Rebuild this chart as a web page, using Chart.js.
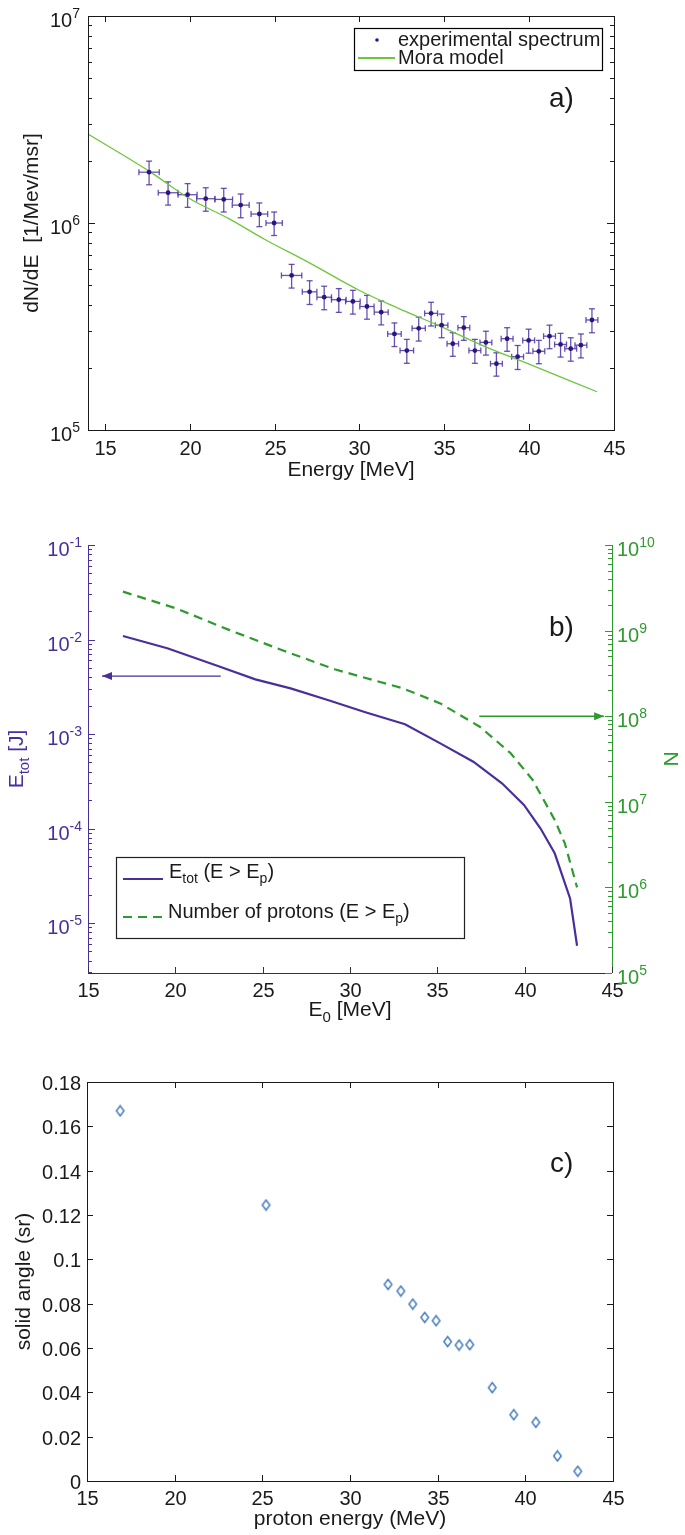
<!DOCTYPE html>
<html>
<head>
<meta charset="utf-8">
<script src="https://cdn.jsdelivr.net/npm/chart.js@4.4.1/dist/chart.umd.min.js"></script>
<style>
  body { margin: 0; background: #fff; }
  #wrap { position: relative; width: 685px; height: 1535px; }
  canvas { position: absolute; left: 0; }
</style>
</head>
<body>
<div id="wrap">
  <canvas id="ca" width="685" height="488" style="top:0"></canvas>
  <canvas id="cb" width="685" height="545" style="top:490px"></canvas>
  <canvas id="cc" width="685" height="500" style="top:1035px"></canvas>
</div>
<script>
const FONT = '"Liberation Sans", Arial, sans-serif';
const INK = "#1a1a1a";

// ── a) experimental spectrum + Mora model ──
const expEnergy = [17.6, 18.72, 19.87, 20.94, 22.0, 23.0, 24.1, 24.97, 26.0, 27.06, 27.92, 28.78, 29.61,
  30.44, 31.28, 32.06, 32.79, 33.49, 34.22, 34.84, 35.5, 36.15, 36.8, 37.45, 38.07, 38.7, 39.32,
  39.97, 40.57, 41.2, 41.85, 42.45, 43.05, 43.7];
const expCounts = [1.76e6, 1.40e6, 1.37e6, 1.31e6, 1.30e6, 1.22e6, 1.105e6, 1.0e6, 5.58e5, 4.65e5, 4.38e5, 4.26e5, 4.18e5,
  3.95e5, 3.71e5, 2.91e5, 2.42e5, 3.10e5, 3.66e5, 3.21e5, 2.61e5, 3.12e5, 2.42e5, 2.65e5, 2.09e5, 2.76e5, 2.26e5,
  2.71e5, 2.40e5, 2.84e5, 2.59e5, 2.47e5, 2.57e5, 3.40e5];
const expErrE = [0.6, 0.58, 0.56, 0.54, 0.52, 0.5, 0.49, 0.48, 0.6, 0.43, 0.43, 0.43, 0.43,
  0.42, 0.41, 0.4, 0.4, 0.39, 0.38, 0.37, 0.34, 0.35, 0.35, 0.35, 0.35, 0.35, 0.35,
  0.35, 0.35, 0.35, 0.35, 0.35, 0.35, 0.35];
const expErrN = [2.3e5, 1.8e5, 1.8e5, 1.7e5, 1.7e5, 1.6e5, 1.45e5, 1.3e5, 7.3e4, 6.1e4, 5.7e4, 5.6e4, 5.5e4,
  5.2e4, 4.9e4, 3.8e4, 3.2e4, 4.1e4, 4.8e4, 4.2e4, 3.4e4, 4.1e4, 3.2e4, 3.5e4, 2.7e4, 3.6e4, 3.0e4,
  3.6e4, 3.1e4, 3.7e4, 3.4e4, 3.2e4, 3.4e4, 4.5e4];
const moraEnergy = [14, 17.6, 20, 22.3, 24.4, 27, 30, 32.2, 34.8, 37.4, 40, 44];
const moraCounts = [2.69e6, 1.78e6, 1.31e6, 1.05e6, 8.35e5, 6.45e5, 4.72e5, 3.9e5, 3.16e5, 2.53e5, 2.08e5, 1.53e5];
const aTicksX = [15, 20, 25, 30, 35, 40, 45];
const aTicksY = [1e5, 1e6, 1e7];

// ── b) total energy and number of protons above E0 ──
const etotE0 = [17, 19.54, 22.56, 24.58, 26.6, 28.86, 30.88, 33.15, 35.17, 37.06, 38.7, 39.96, 40.91, 41.72, 42.6, 43];
const etotJ = [1.09e-2, 8.07e-3, 5.15e-3, 3.79e-3, 3.04e-3, 2.25e-3, 1.70e-3, 1.27e-3, 7.96e-4, 5.09e-4, 3.01e-4,
  1.78e-4, 1.0e-4, 5.47e-5, 1.82e-5, 5.75e-6];
const protE0 = [17, 20.04, 23.07, 26.09, 29.12, 33.02, 35.17, 37.43, 39.2, 40.46, 41.72, 42.3, 43];
const protN = [2.85e9, 1.82e9, 1.02e9, 5.93e8, 3.53e8, 2.12e8, 1.41e8, 7.54e7, 3.69e7, 1.80e7, 6.13e6, 3.27e6, 1.0e6];
const bTicksX = [15, 20, 25, 30, 35, 40, 45];
const bTicksLeft = [1e-5, 1e-4, 1e-3, 1e-2, 1e-1];
const bTicksRight = [1e5, 1e6, 1e7, 1e8, 1e9, 1e10];
const arrowToLeft = [[22.6, 4.1e-3], [15.8, 4.1e-3]];
const arrowToRight = [[37.4, 1e8], [44.55, 1e8]];

// ── c) solid angle vs proton energy ──
const solidEnergy = [16.89, 25.21, 32.17, 32.9, 33.58, 34.26, 34.91, 35.57, 36.22, 36.83, 38.11, 39.34, 40.6, 41.83, 42.99];
const solidAngle = [0.167, 0.1245, 0.0887, 0.0857, 0.0798, 0.0738, 0.0723, 0.0629, 0.0613, 0.0615, 0.0421, 0.0299,
  0.0265, 0.0113, 0.0044];
const cTicksX = [15, 20, 25, 30, 35, 40, 45];
const cTicksY = [0, 0.02, 0.04, 0.06, 0.08, 0.1, 0.12, 0.14, 0.16, 0.18];

const PURPLE_ERR = "rgba(78,52,165,0.85)";
const PURPLE_DOT = "#2b1580";
const GREEN_MORA = "#6cc73c";
const PURPLE_B   = "#4a2f9a";
const GREEN_B    = "#2f9a2f";
const BLUE_C     = "#3f78bb";

// ── helpers ──
function seg(ctx, x1, y1, x2, y2, color, w) {
  ctx.strokeStyle = color; ctx.lineWidth = w || 1;
  ctx.beginPath(); ctx.moveTo(x1, y1); ctx.lineTo(x2, y2); ctx.stroke();
}

function runs(ctx, parts, x, y, align, color) {
  const widths = parts.map(p => { ctx.font = p[1] + "px " + FONT; return ctx.measureText(p[0]).width; });
  const total = widths.reduce((s, w) => s + w, 0);
  let cx = align === "center" ? x - total / 2 : align === "right" ? x - total : x;
  ctx.fillStyle = color; ctx.textAlign = "left"; ctx.textBaseline = "alphabetic";
  parts.forEach((p, i) => {
    ctx.font = p[1] + "px " + FONT;
    ctx.fillText(p[0], cx, y + (p[2] || 0));
    cx += widths[i];
  });
}

function vrun(ctx, parts, x, y, color) {
  ctx.save(); ctx.translate(x, y); ctx.rotate(-Math.PI / 2);
  runs(ctx, parts, 0, 0, "center", color);
  ctx.restore();
}

function pow10(v) {
  return [["10", 20], [String(Math.round(Math.log10(v))), 14, -9]];
}

function logMinors(min, max) {
  const out = [];
  for (let e = Math.floor(Math.log10(min)); e <= Math.ceil(Math.log10(max)); e++) {
    for (let m = 2; m <= 9; m++) {
      const v = m * Math.pow(10, e);
      if (v > min && v < max) out.push(v);
    }
  }
  return out;
}

function fixedTicks(list) {
  return axis => { axis.ticks = list.map(v => ({ value: v })); };
}

function arrow(ctx, x1, y1, x2, y2, color) {
  seg(ctx, x1, y1, x2, y2, color, 1.4);
  const dir = Math.sign(x2 - x1);
  ctx.fillStyle = color;
  ctx.beginPath();
  ctx.moveTo(x2, y2); ctx.lineTo(x2 - dir * 10, y2 - 4); ctx.lineTo(x2 - dir * 10, y2 + 4);
  ctx.closePath(); ctx.fill();
}

function diamondStyle(color) {
  const c = document.createElement("canvas");
  c.width = 11; c.height = 13;
  const g = c.getContext("2d");
  g.strokeStyle = color; g.lineWidth = 1.4;
  g.beginPath(); g.moveTo(5.5, 1.5); g.lineTo(9.3, 6.5); g.lineTo(5.5, 11.5); g.lineTo(1.7, 6.5); g.closePath(); g.stroke();
  return c;
}

const baseOptions = (pad) => ({
  responsive: false,
  animation: false,
  events: [],
  layout: { padding: pad },
  plugins: { legend: { display: false }, tooltip: { enabled: false } },
});

const hidden = { ticks: { display: false }, grid: { display: false }, border: { display: false } };

// ── Panel a ──
const errorBars = {
  id: "errorBars",
  beforeDatasetsDraw(chart) {
    const { ctx, scales: { x, y } } = chart;
    ctx.save();
    expEnergy.forEach((e, i) => {
      const px = x.getPixelForValue(e), py = y.getPixelForValue(expCounts[i]);
      const xl = x.getPixelForValue(e - expErrE[i]), xr = x.getPixelForValue(e + expErrE[i]);
      const yt = y.getPixelForValue(expCounts[i] + expErrN[i]), yb = y.getPixelForValue(expCounts[i] - expErrN[i]);
      seg(ctx, xl, py, xr, py, PURPLE_ERR, 1.3);
      seg(ctx, px, yt, px, yb, PURPLE_ERR, 1.3);
      seg(ctx, px - 3, yt, px + 3, yt, PURPLE_ERR, 1.3);
      seg(ctx, px - 3, yb, px + 3, yb, PURPLE_ERR, 1.3);
      seg(ctx, xl, py - 3, xl, py + 3, PURPLE_ERR, 1.3);
      seg(ctx, xr, py - 3, xr, py + 3, PURPLE_ERR, 1.3);
    });
    ctx.restore();
  },
};

const frameA = {
  id: "frameA",
  afterDraw(chart) {
    const { ctx, chartArea: a, scales: { x, y } } = chart;
    ctx.save();
    ctx.strokeStyle = INK; ctx.lineWidth = 1;
    ctx.strokeRect(a.left + 0.5, a.top + 0.5, a.right - a.left, a.bottom - a.top);
    x.ticks.forEach(t => {
      const px = Math.round(x.getPixelForValue(t.value)) + 0.5;
      seg(ctx, px, a.bottom, px, a.bottom - 6, INK);
      seg(ctx, px, a.top, px, a.top + 6, INK);
      runs(ctx, [[String(t.value), 20]], px, 455, "center", INK);
    });
    y.ticks.forEach(t => {
      const py = Math.round(y.getPixelForValue(t.value)) + 0.5;
      seg(ctx, a.left, py, a.left + 7, py, INK);
      seg(ctx, a.right, py, a.right - 7, py, INK);
      runs(ctx, pow10(t.value), 80, py + 10, "right", INK);
    });
    logMinors(y.min, y.max).forEach(v => {
      const py = Math.round(y.getPixelForValue(v)) + 0.5;
      seg(ctx, a.left, py, a.left + 4, py, INK);
      seg(ctx, a.right, py, a.right - 4, py, INK);
    });
    runs(ctx, [["Energy [MeV]", 21]], (a.left + a.right) / 2, 476, "center", INK);
    vrun(ctx, [["dN/dE  [1/Mev/msr]", 21]], 38, (a.top + a.bottom) / 2, INK);

    // legend
    ctx.fillStyle = "#fff"; ctx.fillRect(354, 28, 248, 42);
    ctx.strokeStyle = "#000"; ctx.lineWidth = 1.2; ctx.strokeRect(354.5, 28.5, 248, 42);
    ctx.fillStyle = PURPLE_DOT; ctx.beginPath(); ctx.arc(377, 40, 1.8, 0, Math.PI * 2); ctx.fill();
    runs(ctx, [["experimental spectrum", 20]], 398, 46, "left", INK);
    seg(ctx, 358, 58, 395, 58, GREEN_MORA, 2.2);
    runs(ctx, [["Mora model", 20]], 398, 64, "left", INK);

    runs(ctx, [["a)", 28]], 549, 107, "left", INK);
    ctx.restore();
  },
};

new Chart(document.getElementById("ca"), {
  type: "scatter",
  data: {
    datasets: [
      {
        label: "experimental spectrum",
        data: expEnergy.map((e, i) => ({ x: e, y: expCounts[i] })),
        pointRadius: 2.4, pointBackgroundColor: PURPLE_DOT, pointBorderWidth: 0,
      },
      {
        label: "Mora model",
        data: moraEnergy.map((e, i) => ({ x: e, y: moraCounts[i] })),
        showLine: true, pointRadius: 0, borderColor: GREEN_MORA, borderWidth: 1.3,
        cubicInterpolationMode: "monotone",
      },
    ],
  },
  options: {
    ...baseOptions({ top: 16, right: 71, left: 0, bottom: 0 }),
    scales: {
      x: { type: "linear", min: 14, max: 45, ...hidden, afterBuildTicks: fixedTicks(aTicksX), afterFit: s => { s.height = 58; } },
      y: { type: "logarithmic", min: 1e5, max: 1e7, ...hidden, afterBuildTicks: fixedTicks(aTicksY), afterFit: s => { s.width = 88; } },
    },
  },
  plugins: [errorBars, frameA],
});

// ── Panel b ──
const frameB = {
  id: "frameB",
  afterDraw(chart) {
    const { ctx, chartArea: a, scales: { x, yL, yR } } = chart;
    const off = 490;
    ctx.save();
    seg(ctx, a.left, a.bottom + 0.5, a.right, a.bottom + 0.5, "#333", 1);
    seg(ctx, a.left + 0.5, a.top, a.left + 0.5, a.bottom, PURPLE_B, 1);
    seg(ctx, a.right + 0.5, a.top, a.right + 0.5, a.bottom, GREEN_B, 1);
    x.ticks.forEach(t => {
      const px = Math.round(x.getPixelForValue(t.value)) + 0.5;
      seg(ctx, px, a.bottom, px, a.bottom - 6, "#333");
      runs(ctx, [[String(t.value), 20]], px, 997 - off, "center", INK);
    });
    yL.ticks.forEach(t => {
      const py = Math.round(yL.getPixelForValue(t.value)) + 0.5;
      seg(ctx, a.left, py, a.left + 7, py, PURPLE_B);
      runs(ctx, pow10(t.value), 82, py + 10, "right", PURPLE_B);
    });
    logMinors(yL.min, yL.max).forEach(v => {
      const py = Math.round(yL.getPixelForValue(v)) + 0.5;
      seg(ctx, a.left, py, a.left + 4, py, PURPLE_B);
    });
    yR.ticks.forEach(t => {
      const py = Math.round(yR.getPixelForValue(t.value)) + 0.5;
      seg(ctx, a.right, py, a.right - 7, py, GREEN_B);
      runs(ctx, pow10(t.value), 617, py + 10, "left", GREEN_B);
    });
    logMinors(yR.min, yR.max).forEach(v => {
      const py = Math.round(yR.getPixelForValue(v)) + 0.5;
      seg(ctx, a.right, py, a.right - 4, py, GREEN_B);
    });

    arrow(ctx, x.getPixelForValue(arrowToLeft[0][0]), yL.getPixelForValue(arrowToLeft[0][1]),
      x.getPixelForValue(arrowToLeft[1][0]), yL.getPixelForValue(arrowToLeft[1][1]), PURPLE_B);
    arrow(ctx, x.getPixelForValue(arrowToRight[0][0]), yR.getPixelForValue(arrowToRight[0][1]),
      x.getPixelForValue(arrowToRight[1][0]), yR.getPixelForValue(arrowToRight[1][1]), GREEN_B);

    runs(ctx, [["E", 21], ["0", 15, 6], [" [MeV]", 21]], (a.left + a.right) / 2, 1016 - off, "center", INK);
    const cy = (a.top + a.bottom) / 2;
    vrun(ctx, [["E", 21], ["tot", 15, 6], [" [J]", 21]], 23, cy, PURPLE_B);
    vrun(ctx, [["N", 21]], 678, cy, GREEN_B);

    // legend
    const lt = 857 - off;
    ctx.fillStyle = "#fff"; ctx.fillRect(116, lt, 348, 81);
    ctx.strokeStyle = "#222"; ctx.lineWidth = 1.2; ctx.strokeRect(116.5, lt + 0.5, 348, 81);
    seg(ctx, 123, 879 - off, 163, 879 - off, PURPLE_B, 2.2);
    runs(ctx, [["E", 20], ["tot", 14, 5], [" (E > E", 20], ["p", 14, 5], [")", 20]], 169, 878 - off, "left", INK);
    ctx.setLineDash([9, 6]);
    seg(ctx, 123, 917 - off, 163, 917 - off, GREEN_B, 2.2);
    ctx.setLineDash([]);
    runs(ctx, [["Number of protons (E > E", 20], ["p", 14, 5], [")", 20]], 168, 918 - off, "left", INK);

    runs(ctx, [["b)", 28]], 549, 636 - off, "left", INK);
    ctx.restore();
  },
};

new Chart(document.getElementById("cb"), {
  type: "scatter",
  data: {
    datasets: [
      {
        label: "Etot (E > Ep)",
        data: etotE0.map((e, i) => ({ x: e, y: etotJ[i] })),
        yAxisID: "yL", showLine: true, pointRadius: 0, borderColor: PURPLE_B, borderWidth: 2.2,
      },
      {
        label: "Number of protons (E > Ep)",
        data: protE0.map((e, i) => ({ x: e, y: protN[i] })),
        yAxisID: "yR", showLine: true, pointRadius: 0, borderColor: GREEN_B, borderWidth: 2.2,
        borderDash: [9, 6],
      },
    ],
  },
  options: {
    ...baseOptions({ top: 55, right: 0, left: 0, bottom: 0 }),
    scales: {
      x: { type: "linear", min: 15, max: 45, ...hidden, afterBuildTicks: fixedTicks(bTicksX), afterFit: s => { s.height = 62; } },
      yL: { type: "logarithmic", position: "left", min: 2.96e-6, max: 0.1, ...hidden,
        afterBuildTicks: fixedTicks(bTicksLeft), afterFit: s => { s.width = 88; } },
      yR: { type: "logarithmic", position: "right", min: 1e5, max: 1e10, ...hidden,
        afterBuildTicks: fixedTicks(bTicksRight), afterFit: s => { s.width = 73; } },
    },
  },
  plugins: [frameB],
});

// ── Panel c ──
const frameC = {
  id: "frameC",
  afterDraw(chart) {
    const { ctx, chartArea: a, scales: { x, y } } = chart;
    const off = 1035;
    ctx.save();
    ctx.strokeStyle = INK; ctx.lineWidth = 1;
    ctx.strokeRect(a.left + 0.5, a.top + 0.5, a.right - a.left, a.bottom - a.top);
    x.ticks.forEach(t => {
      const px = Math.round(x.getPixelForValue(t.value)) + 0.5;
      seg(ctx, px, a.bottom, px, a.bottom - 6, INK);
      seg(ctx, px, a.top, px, a.top + 6, INK);
      runs(ctx, [[String(t.value), 20]], px, 1505 - off, "center", INK);
    });
    y.ticks.forEach(t => {
      const py = Math.round(y.getPixelForValue(t.value)) + 0.5;
      seg(ctx, a.left, py, a.left + 6, py, INK);
      seg(ctx, a.right, py, a.right - 6, py, INK);
      runs(ctx, [[String(t.value), 20]], 81, py + 7, "right", INK);
    });
    runs(ctx, [["proton energy (MeV)", 21]], (a.left + a.right) / 2, 1525 - off, "center", INK);
    vrun(ctx, [["solid angle (sr)", 21]], 30, (a.top + a.bottom) / 2, INK);
    runs(ctx, [["c)", 28]], 550, 1172 - off, "left", INK);
    ctx.restore();
  },
};

new Chart(document.getElementById("cc"), {
  type: "scatter",
  data: {
    datasets: [{
      label: "solid angle",
      data: solidEnergy.map((e, i) => ({ x: e, y: solidAngle[i] })),
      pointStyle: diamondStyle(BLUE_C),
    }],
  },
  options: {
    ...baseOptions({ top: 47, right: 72, left: 0, bottom: 0 }),
    scales: {
      x: { type: "linear", min: 15, max: 45, ...hidden, afterBuildTicks: fixedTicks(cTicksX), afterFit: s => { s.height = 54; } },
      y: { type: "linear", min: 0, max: 0.18, ...hidden, afterBuildTicks: fixedTicks(cTicksY), afterFit: s => { s.width = 87; } },
    },
  },
  plugins: [frameC],
});
</script>
</body>
</html>
